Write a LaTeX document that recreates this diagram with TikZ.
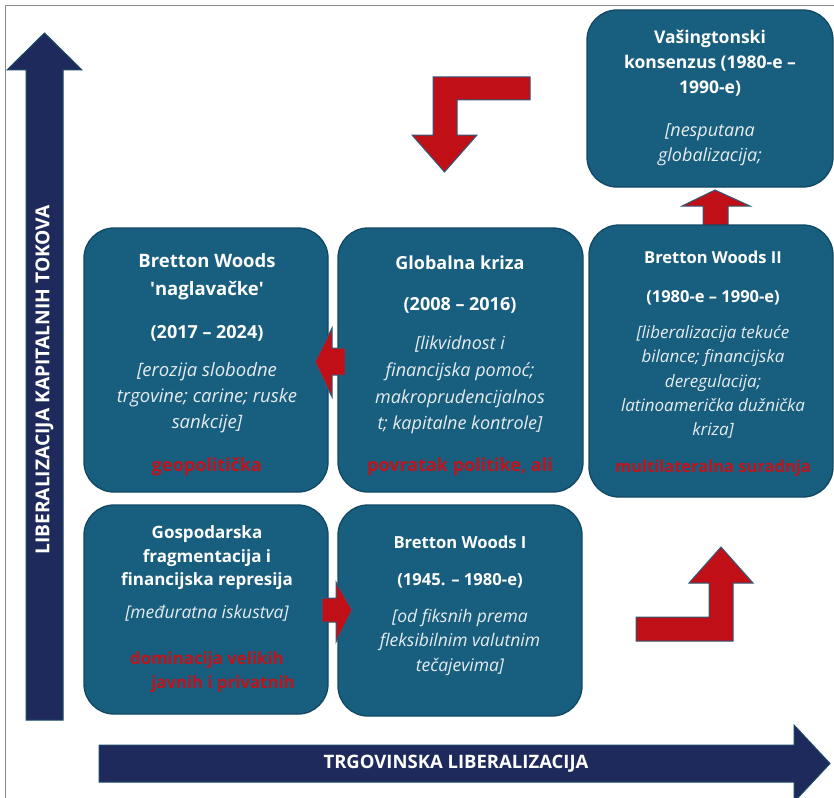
\documentclass[tikz,border=0pt]{standalone}
\usepackage{fontspec}
\setmainfont{Open Sans}
\definecolor{boxfill}{HTML}{185E7E}
\definecolor{boxedge}{HTML}{114862}
\definecolor{navy}{HTML}{1F2A5C}
\definecolor{axisedge}{HTML}{1A4A66}
\definecolor{redfill}{HTML}{C00F17}
\definecolor{arrowedge}{HTML}{2F5A7A}
\definecolor{redtext}{HTML}{C0141C}
\definecolor{softwhite}{HTML}{E6ECF0}
\definecolor{framegray}{HTML}{8A8A8A}
\begin{document}
\begin{tikzpicture}[x=1pt,y=-1pt,
  panel/.style={draw=boxedge, line width=1.3pt, fill=boxfill, rounded corners=30pt, inner sep=0},
  axis/.style={draw=axisedge, line width=1pt, fill=navy, line join=miter},
  turn/.style={draw=arrowedge, line width=1pt, fill=redfill, line join=miter},
  ttl/.style 2 args={text=white, align=center, inner sep=0, font=\bfseries\fontsize{#1}{#2}\selectfont},
  note/.style 2 args={text=softwhite, align=center, inner sep=0, font=\itshape\fontsize{#1}{#2}\selectfont},
  tag/.style 2 args={text=redtext, align=center, inner sep=0, font=\bfseries\fontsize{#1}{#2}\selectfont},
  axislabel/.style={text=white, inner sep=0, font=\bfseries\fontsize{19.2}{22}\selectfont}]
\useasboundingbox (0,0) rectangle (834,797);

% outer frame
\draw[framegray, line width=1pt] (5,800) -- (5,6) -- (840,6);

% axes
\draw[axis] (26,720) -- (26,70) -- (7,70) -- (44.5,33) -- (82,70) -- (63,70) -- (63,720) -- cycle;
\draw[axis] (99,745) -- (794,745) -- (794,725) -- (830,763.5) -- (794,802) -- (794,782) -- (99,782) -- cycle;
\node[axislabel, rotate=90] (yaxis) at (44.5,380) {LIBERALIZACIJA KAPITALNIH TOKOVA};
\node[axislabel, font=\bfseries\fontsize{18.5}{22}\selectfont] (xaxis) at (456,763.5) {TRGOVINSKA LIBERALIZACIJA};

% small arrow between Bretton Woods II and the Washington consensus
\draw[turn] (703,226) -- (703,206) -- (682,206) -- (715,190) -- (750,206) -- (728,206) -- (728,226) -- cycle;

% panels
\node[panel, minimum width=246, minimum height=177] (wash) at (710,98.5) {};
\node[panel, minimum width=244, minimum height=264] (upside) at (206,360) {};
\node[panel, minimum width=245, minimum height=264] (crisis) at (460.5,360) {};
\node[panel, minimum width=244, minimum height=272] (bwtwo) at (711,361) {};
\node[panel, minimum width=244, minimum height=209] (frag) at (206,609.5) {};
\node[panel, minimum width=244, minimum height=211] (bwone) at (460,610.5) {};

% transition arrows
\draw[turn] (345,348) -- (332,348) -- (332,328) -- (315,362) -- (332,397) -- (332,375) -- (345,375) -- cycle;
\draw[turn] (322,598) -- (336,598) -- (336,582) -- (352,610) -- (336,642) -- (336,622) -- (322,622) -- cycle;
\draw[turn] (530,77) -- (433,77) -- (433,135) -- (412,135) -- (444.5,172) -- (477,135) -- (457,135) -- (457,100) -- (530,100) -- cycle;
\draw[turn] (636,617) -- (709,617) -- (709,583) -- (689,583) -- (721,547) -- (753,583) -- (733,583) -- (733,641) -- (636,641) -- cycle;

% Washington consensus
\node[ttl={17.5}{25}] (washT) at (710,63) {Vašingtonski\\konsenzus (1980-e –\\1990-e)};
\node[note={18}{25}] (washN) at (710,144.5) {[nesputana\\globalizacija;};

% Bretton Woods upside down
\node[ttl={18.5}{28}] (upT) at (207,277) {Bretton Woods\\\textquotesingle naglavačke\textquotesingle};
\node[ttl={18}{20}] (upD) at (207,333) {(2017 – 2024)};
\node[note={18.5}{26}] (upN) at (207,398) {[erozija slobodne\\trgovine; carine; ruske\\sankcije]};
\node[tag={18}{20}] (upR) at (207,467) {geopolitička};

% Global crisis
\node[ttl={18}{20}] (crT) at (460,263) {Globalna kriza};
\node[ttl={18}{20}] (crD) at (460,305) {(2008 – 2016)};
\node[note={18}{26.7}] (crN) at (460,385) {[likvidnost i\\financijska pomoć;\\makroprudencijalnos\\t; kapitalne kontrole]};
\node[tag={18}{20}] (crR) at (460,467) {povratak politike, ali};

% Bretton Woods II
\node[ttl={16.5}{20}] (twoT) at (713,257) {Bretton Woods II};
\node[ttl={16.5}{20}] (twoD) at (713,298) {(1980-e – 1990-e)};
\node[note={17}{24.3}] (twoN) at (713,382) {[liberalizacija tekuće\\bilance; financijska\\deregulacija;\\latinoamerička dužnička\\kriza]};
\node[tag={16.5}{20}] (twoR) at (713,468) {multilateralna suradnja};

% Fragmentation
\node[ttl={17}{23.5}] (frT) at (207,558) {Gospodarska\\fragmentacija i\\financijska represija};
\node[note={17.5}{20}] (frN) at (207,613) {[međuratna iskustva]};
\node[tag={16.8}{20}] (frR1) at (207,660) {dominacija velikih};
\node[tag={16.8}{20}] (frR2) at (223,684) {javnih i privatnih};

% Bretton Woods I
\node[ttl={16.6}{20}] (oneT) at (460,542) {Bretton Woods I};
\node[ttl={16.6}{20}] (oneD) at (460,581) {(1945. – 1980-e)};
\node[note={17.5}{24.5}] (oneN) at (460,642) {[od fiksnih prema\\fleksibilnim valutnim\\tečajevima]};
\end{tikzpicture}
\end{document}
